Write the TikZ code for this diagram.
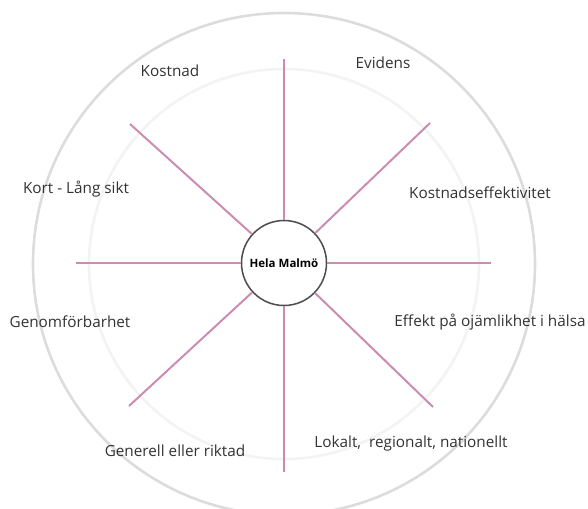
\documentclass[tikz,border=0pt]{standalone}
\usepackage{fontspec}
\setmainfont{Open Sans}
\usepackage{tikz}
\definecolor{spokepink}{RGB}{204,140,178}
\definecolor{ringgray}{RGB}{220,220,220}
\definecolor{ringfaint}{RGB}{243,243,243}
\definecolor{labelgray}{RGB}{50,50,50}

\begin{document}
\begin{tikzpicture}[x=1pt, y=-1pt,
    spoke/.style={spokepink, line width=2pt},
    crit/.style={labelgray, font=\fontsize{15.3}{18}\selectfont, inner sep=0pt}]
    \useasboundingbox (0,0) rectangle (588,508);
    \draw[ringgray, line width=2.6pt] (284,264) circle (251);
    \draw[ringfaint, line width=2.6pt] (284,264) circle (195);
    \node[circle, draw=black!70, line width=1.5pt, minimum size=85pt, inner sep=0pt,
        font=\bfseries\fontsize{11.5}{13}\selectfont] (hub) at (284,263) {Hela Malmö};
    \coordinate (endN) at (284,59);
    \coordinate (endNE) at (430,123);
    \coordinate (endE) at (491,263);
    \coordinate (endSE) at (433,407);
    \coordinate (endS) at (284,472);
    \coordinate (endSW) at (129,406);
    \coordinate (endW) at (76,263);
    \coordinate (endNW) at (130,124);
    \foreach \e in {N,NE,E,SE,S,SW,W,NW}
        \draw[spoke] (hub) -- (end\e);
    \node[crit] (kostnad) at (170,71) {Kostnad};
    \node[crit] (evidens) at (383,63) {Evidens};
    \node[crit] (sikt) at (76,189) {Kort - Lång sikt};
    \node[crit] (kosteff) at (480,193) {Kostnadseffektivitet};
    \node[crit] (genom) at (70,322) {Genomförbarhet};
    \node[crit] (effekt) at (490,322) {Effekt på ojämlikhet i hälsa};
    \node[crit] (generell) at (175,451) {Generell eller riktad};
    \node[crit] (lokalt) at (411,444) {Lokalt,\ \ regionalt, nationellt};
\end{tikzpicture}
\end{document}
